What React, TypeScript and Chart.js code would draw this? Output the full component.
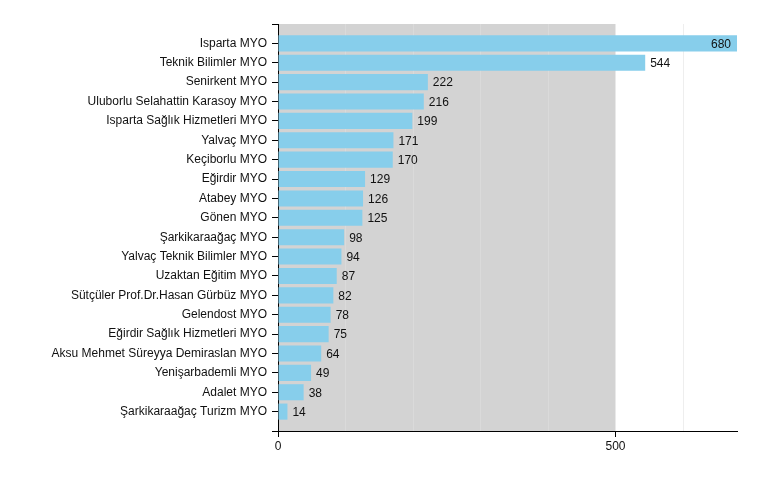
import React, { useEffect, useRef } from 'react';
import { Chart, registerables } from 'chart.js';

Chart.register(...registerables);

const categories: string[] = [
  'Isparta MYO',
  'Teknik Bilimler MYO',
  'Senirkent MYO',
  'Uluborlu Selahattin Karasoy MYO',
  'Isparta Sağlık Hizmetleri MYO',
  'Yalvaç MYO',
  'Keçiborlu MYO',
  'Eğirdir MYO',
  'Atabey MYO',
  'Gönen MYO',
  'Şarkikaraağaç MYO',
  'Yalvaç Teknik Bilimler MYO',
  'Uzaktan Eğitim MYO',
  'Sütçüler Prof.Dr.Hasan Gürbüz MYO',
  'Gelendost MYO',
  'Eğirdir Sağlık Hizmetleri MYO',
  'Aksu Mehmet Süreyya Demiraslan MYO',
  'Yenişarbademli MYO',
  'Adalet MYO',
  'Şarkikaraağaç Turizm MYO',
];

const values: number[] = [680, 544, 222, 216, 199, 171, 170, 129, 126, 125, 98, 94, 87, 82, 78, 75, 64, 49, 38, 14];

const xTickLabels: number[] = [0, 500];
const xMax = 680;
const xStep = 100;
const shadedMax = 500;

const FONT_FAMILY = '"Liberation Sans", Arial, Helvetica, sans-serif';

export default function App() {
  const ref = useRef<HTMLCanvasElement>(null);

  useEffect(() => {
    document.body.style.margin = '0';
    const canvas = ref.current!;

    const bgPlugin = {
      id: 'shadedBg',
      beforeDraw(chart: any) {
        const { ctx, chartArea, scales } = chart;
        const x0 = scales.x.getPixelForValue(0);
        const x1 = scales.x.getPixelForValue(shadedMax);
        ctx.save();
        ctx.fillStyle = '#d3d3d3';
        ctx.fillRect(x0, chartArea.top, x1 - x0, chartArea.bottom - chartArea.top);
        ctx.restore();
      },
    };

    const labelPlugin = {
      id: 'valueLabels',
      afterDatasetsDraw(chart: any) {
        const { ctx, chartArea } = chart;
        const meta = chart.getDatasetMeta(0);
        ctx.save();
        ctx.font = '12px ' + FONT_FAMILY;
        ctx.fillStyle = '#111';
        ctx.textBaseline = 'middle';
        meta.data.forEach((bar: any, i: number) => {
          const text = String(values[i]);
          const w = ctx.measureText(text).width;
          if (bar.x + 5 + w > chartArea.right) {
            ctx.textAlign = 'right';
            ctx.fillText(text, bar.x - 6, bar.y + 1);
          } else {
            ctx.textAlign = 'left';
            ctx.fillText(text, bar.x + 5, bar.y + 1);
          }
        });
        ctx.restore();
      },
    };

    const chart = new Chart(canvas, {
      type: 'bar',
      data: {
        datasets: [
          {
            data: values.map((v, i) => ({ x: v, y: i })),
            backgroundColor: '#87ceeb',
            borderWidth: 0,
            barPercentage: 0.83,
            categoryPercentage: 1,
          },
        ],
      },
      options: {
        indexAxis: 'y',
        animation: false,
        responsive: false,
        events: [],
        layout: { padding: { top: 24, right: 23, left: 0, bottom: 0 } },
        plugins: { legend: { display: false }, tooltip: { enabled: false } },
        scales: {
          x: {
            type: 'linear',
            position: 'bottom',
            min: 0,
            max: xMax,
            offset: false,
            afterFit: (s: any) => {
              s.height = 48;
            },
            grid: {
              offset: false,
              drawOnChartArea: true,
              drawTicks: true,
              tickLength: 6,
              lineWidth: 1,
              color: (c: any) => {
                const v = c.tick ? c.tick.value : null;
                if (v === null || v === 0 || v === shadedMax || v === xMax) return 'rgba(0,0,0,0)';
                return v < shadedMax ? '#dadada' : '#eeeeee';
              },
              tickColor: (c: any) =>
                c.tick && xTickLabels.includes(c.tick.value) ? '#000' : 'rgba(0,0,0,0)',
            },
            border: { display: true, color: '#000', width: 1 },
            ticks: {
              stepSize: xStep,
              autoSkip: false,
              maxRotation: 0,
              padding: 2,
              color: '#111',
              font: { size: 12, family: FONT_FAMILY },
              callback: (v: any) => (xTickLabels.includes(Number(v)) ? String(v) : ''),
            },
          },
          y: {
            type: 'linear',
            min: -1,
            max: categories.length,
            reverse: true,
            offset: false,
            afterFit: (s: any) => {
              s.width = 278;
            },
            grid: {
              offset: false,
              drawOnChartArea: false,
              drawTicks: true,
              tickLength: 6,
              tickColor: '#000',
              lineWidth: 1,
            },
            border: { display: true, color: '#000', width: 1 },
            ticks: {
              stepSize: 1,
              autoSkip: false,
              padding: 5,
              color: '#111',
              font: { size: 12, family: FONT_FAMILY },
              callback: (v: any) => categories[Number(v)] ?? '',
            },
          },
        },
      },
      plugins: [bgPlugin, labelPlugin],
    } as any);

    return () => {
      chart.destroy();
    };
  }, []);

  return (
    <div style={{ width: 760, height: 479 }}>
      <canvas ref={ref} width={760} height={479} style={{ display: 'block' }} />
    </div>
  );
}
